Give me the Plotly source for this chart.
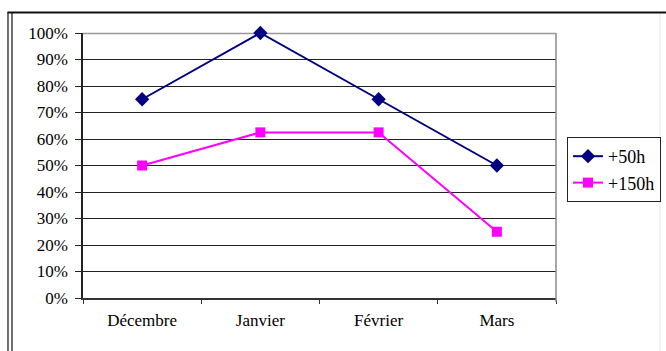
import plotly.graph_objects as go

# Monthly share of hours, two thresholds
months = ["Décembre", "Janvier", "Février", "Mars"]
plus_50h = [0.75, 1.00, 0.75, 0.50]
plus_150h = [0.50, 0.625, 0.625, 0.25]
y_ticks = [0, 0.1, 0.2, 0.3, 0.4, 0.5, 0.6, 0.7, 0.8, 0.9, 1.0]
y_tick_text = ["0%", "10%", "20%", "30%", "40%", "50%", "60%", "70%", "80%", "90%", "100%"]

W, H = 666, 351
L, R, T, B = 83, 110, 33, 53
pw, ph = W - L - R, H - T - B


def px_x(p):
    return (p - L) / pw


def px_y(p):
    return (H - B - p) / ph


FONT = "Liberation Serif, serif"

fig = go.Figure()
fig.add_trace(go.Scatter(
    x=months, y=plus_50h, name="+50h", mode="lines+markers",
    line=dict(color="#000080", width=2),
    marker=dict(symbol="diamond", size=11, color="#000080"),
    cliponaxis=False,
))
fig.add_trace(go.Scatter(
    x=months, y=plus_150h, name="+150h", mode="lines+markers",
    line=dict(color="#FF00FF", width=2),
    marker=dict(symbol="square", size=10, color="#FF00FF"),
    cliponaxis=False,
))

shapes = [
    # top gridline at 100%, lighter than the others
    dict(type="line", xref="paper", yref="paper", x0=0, x1=1, y0=px_y(33.5), y1=px_y(33.5),
         line=dict(color="#999999", width=1.5), layer="below"),
    # right edge of the plot area
    dict(type="line", xref="paper", yref="paper", x0=1, x1=1, y0=px_y(302), y1=px_y(33),
         line=dict(color="#888888", width=1.5)),
    # outer chart frame: double line on the left, heavy line on top, light right edge
    dict(type="line", xref="paper", yref="paper", x0=px_x(8), x1=px_x(8), y0=px_y(12), y1=px_y(360),
         line=dict(color="#111111", width=1.2)),
    dict(type="line", xref="paper", yref="paper", x0=px_x(12), x1=px_x(12), y0=px_y(13), y1=px_y(360),
         line=dict(color="#111111", width=1.2)),
    dict(type="line", xref="paper", yref="paper", x0=px_x(7.5), x1=px_x(670), y0=px_y(12.5), y1=px_y(12.5),
         line=dict(color="#111111", width=2.2)),
    dict(type="line", xref="paper", yref="paper", x0=px_x(660), x1=px_x(660), y0=px_y(14), y1=px_y(360),
         line=dict(color="#e6e6e6", width=1)),
]

fig.update_layout(
    width=W, height=H,
    margin=dict(l=L, r=R, t=T, b=B, pad=0, autoexpand=False),
    paper_bgcolor="white", plot_bgcolor="white",
    font=dict(family=FONT, size=17, color="black"),
    showlegend=True,
    legend=dict(
        xref="container", yref="container",
        x=567 / W, y=1 - 137 / H, xanchor="left", yanchor="top",
        bordercolor="#222222", borderwidth=1, bgcolor="white",
        font=dict(family=FONT, size=18, color="black"),
        itemwidth=30, tracegroupgap=0,
    ),
    shapes=shapes,
    xaxis=dict(
        type="category", categoryorder="array", categoryarray=months,
        range=[-0.5, 3.5], automargin=False,
        showgrid=False, zeroline=False,
        showline=True, linecolor="#333333", linewidth=1.5,
        ticks="outside", tickson="boundaries", ticklen=4, tickcolor="#333333",
        ticklabelstandoff=6,
        tickfont=dict(family=FONT, size=17, color="black"),
    ),
    yaxis=dict(
        range=[0, 1.0], automargin=False,
        tickvals=y_ticks, ticktext=y_tick_text,
        showgrid=True, gridcolor="#222222", gridwidth=1,
        zeroline=False,
        showline=True, linecolor="#222222", linewidth=1.5,
        ticks="outside", ticklen=6, tickcolor="#222222",
        ticklabelstandoff=4,
        tickfont=dict(family=FONT, size=17, color="black"),
    ),
)

fig.write_html("out.html")
